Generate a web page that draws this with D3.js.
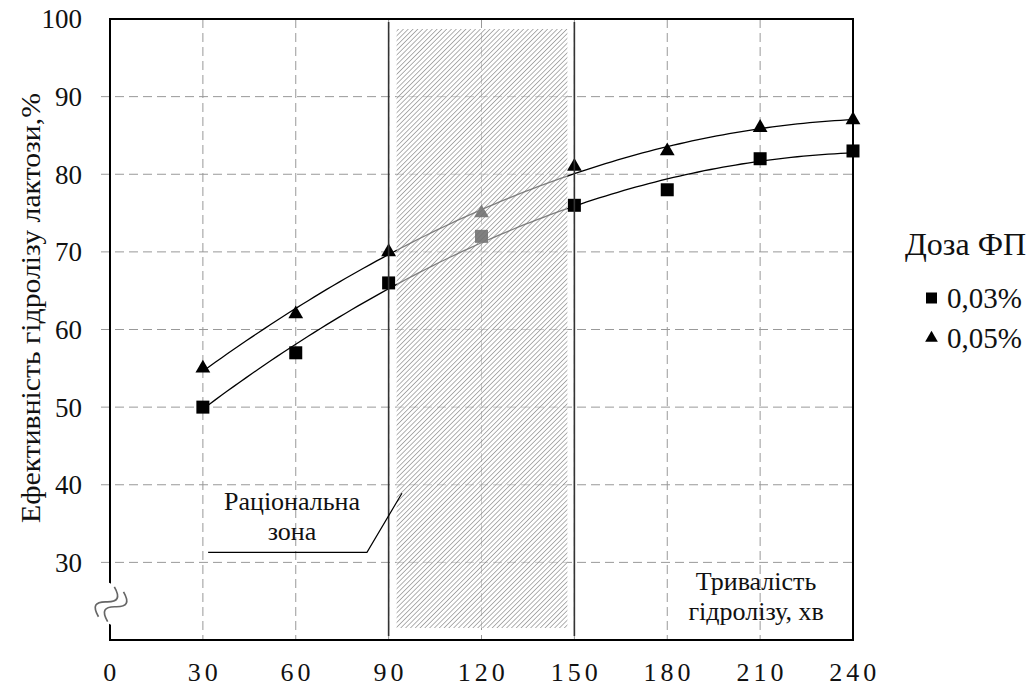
<!DOCTYPE html>
<html>
<head>
<meta charset="utf-8">
<script src="https://cdn.jsdelivr.net/npm/d3@7"></script>
</head>
<body style="margin:0; background:#fff">
<div id="wrapper"></div>
<script>
// data
const times = [30, 60, 90, 120, 150, 180, 210, 240];
const dose003 = [50, 57, 66, 72, 76, 78, 82, 83];
const dose005 = [55, 62, 70, 75, 81, 83, 86, 87];
const xTicks = [0, 30, 60, 90, 120, 150, 180, 210, 240];
const yTicks = [30, 40, 50, 60, 70, 80, 90, 100];
const zone = [90, 150];
const seriesNames = ['0,03%', '0,05%'];

const FONT = 'Liberation Serif';

const dimensions = {
  width: 1034,
  height: 689,
  margin: { top: 19, right: 181, bottom: 49, left: 110 },
};
dimensions.boundedWidth = dimensions.width - dimensions.margin.left - dimensions.margin.right;
dimensions.boundedHeight = dimensions.height - dimensions.margin.top - dimensions.margin.bottom;

const xScale = d3.scaleLinear().domain([0, 240]).range([0, dimensions.boundedWidth]);
const yScale = d3.scaleLinear().domain([20, 100]).range([dimensions.boundedHeight, 0]);

const svg = d3.select('#wrapper').append('svg')
  .attr('width', dimensions.width)
  .attr('height', dimensions.height);

function serif(sel, size) {
  return sel.attr('font-family', FONT)
    .style('font-family', `"${FONT}"`)
    .style('font-size', size + 'px')
    .attr('fill', '#111');
}

const defs = svg.append('defs');
defs.append('pattern')
  .attr('id', 'hatch')
  .attr('patternUnits', 'userSpaceOnUse')
  .attr('width', 3.4).attr('height', 3.4)
  .attr('patternTransform', 'rotate(45)')
  .append('line')
  .attr('x1', 0).attr('y1', 0).attr('x2', 0).attr('y2', 3.4)
  .attr('stroke', '#707070').attr('stroke-width', 1.1);

const bounds = svg.append('g')
  .attr('transform', `translate(${dimensions.margin.left}, ${dimensions.margin.top})`);

// grid
bounds.append('g').selectAll('line')
  .data(yTicks.filter((d) => d < 100))
  .join('line')
  .attr('x1', -9).attr('x2', dimensions.boundedWidth)
  .attr('y1', (d) => yScale(d)).attr('y2', (d) => yScale(d))
  .attr('stroke', '#999').attr('stroke-dasharray', '9,5');

bounds.append('g').selectAll('line')
  .data(xTicks.filter((d) => d > 0 && d < 240))
  .join('line')
  .attr('y1', 0).attr('y2', dimensions.boundedHeight)
  .attr('x1', (d) => xScale(d)).attr('x2', (d) => xScale(d))
  .attr('stroke', '#999').attr('stroke-dasharray', '9,5');

// quadratic trend (least squares)
function quadFit(xs, ys) {
  let s = [0, 0, 0, 0, 0], t = [0, 0, 0];
  xs.forEach((x, i) => {
    for (let k = 0; k < 5; k++) s[k] += Math.pow(x, k);
    for (let k = 0; k < 3; k++) t[k] += ys[i] * Math.pow(x, k);
  });
  const A = [[s[0], s[1], s[2], t[0]], [s[1], s[2], s[3], t[1]], [s[2], s[3], s[4], t[2]]];
  for (let i = 0; i < 3; i++) {
    for (let j = i + 1; j < 3; j++) {
      const f = A[j][i] / A[i][i];
      for (let k = i; k < 4; k++) A[j][k] -= f * A[i][k];
    }
  }
  const c = [0, 0, 0];
  for (let i = 2; i >= 0; i--) {
    let v = A[i][3];
    for (let k = i + 1; k < 3; k++) v -= A[i][k] * c[k];
    c[i] = v / A[i][i];
  }
  return (x) => c[0] + c[1] * x + c[2] * x * x;
}

const line = d3.line().x((d) => xScale(d[0])).y((d) => yScale(d[1]));
[dose003, dose005].forEach((vals) => {
  const f = quadFit(times, vals);
  const pts = d3.range(30, 240.1, 2).map((x) => [x, f(x)]);
  bounds.append('path')
    .attr('d', line(pts))
    .attr('fill', 'none')
    .attr('stroke', '#000')
    .attr('stroke-width', 1.3);
});

// markers
bounds.append('g').selectAll('rect')
  .data(times)
  .join('rect')
  .attr('x', (d) => xScale(d) - 6.5)
  .attr('y', (d, i) => yScale(dose003[i]) - 6.5)
  .attr('width', 13).attr('height', 13)
  .attr('fill', '#000');

const tri = d3.symbol().type(d3.symbolTriangle).size(95);
bounds.append('g').selectAll('path')
  .data(times)
  .join('path')
  .attr('d', tri)
  .attr('transform', (d, i) => `translate(${xScale(d)}, ${yScale(dose005[i])})`)
  .attr('fill', '#000');

// rational zone
const zx0 = xScale(zone[0]) + 8;
const zx1 = xScale(zone[1]) - 7;
bounds.append('rect')
  .attr('x', zx0).attr('y', 10)
  .attr('width', zx1 - zx0).attr('height', dimensions.boundedHeight - 22)
  .attr('fill', 'rgba(255,255,255,0.5)');
bounds.append('rect')
  .attr('x', zx0).attr('y', 10)
  .attr('width', zx1 - zx0).attr('height', dimensions.boundedHeight - 22)
  .attr('fill', 'url(#hatch)');

bounds.append('g').selectAll('line')
  .data(zone)
  .join('line')
  .attr('x1', (d) => xScale(d)).attr('x2', (d) => xScale(d))
  .attr('y1', 3).attr('y2', dimensions.boundedHeight - 4)
  .attr('stroke', '#333').attr('stroke-width', 1.6);

// frame
bounds.append('rect')
  .attr('width', dimensions.boundedWidth)
  .attr('height', dimensions.boundedHeight)
  .attr('fill', 'none')
  .attr('stroke', '#000')
  .attr('stroke-width', 2);

// axis break
const brk = bounds.append('g').attr('transform', `translate(1, ${yScale(24.6)}) rotate(-62) scale(1.3)`);
brk.append('rect').attr('x', -14).attr('y', -9).attr('width', 28).attr('height', 18).attr('fill', '#fff');
[-4, 4].forEach((o) => {
  brk.append('path')
    .attr('d', `M-13,${o} C-8,${o - 8} -4,${o - 8} 0,${o} S8,${o + 8} 13,${o}`)
    .attr('fill', 'none').attr('stroke', '#666').attr('stroke-width', 1.3);
});

// tick labels
serif(bounds.append('g').selectAll('text')
  .data(yTicks)
  .join('text'), 27)
  .attr('x', -28)
  .attr('y', (d) => yScale(d))
  .attr('dy', '0.35em')
  .attr('text-anchor', 'end')
  .text((d) => d);

serif(bounds.append('g').selectAll('text')
  .data(xTicks)
  .join('text'), 26)
  .attr('x', (d) => xScale(d) + 1.75)
  .attr('y', dimensions.boundedHeight + 41)
  .attr('text-anchor', 'middle')
  .style('letter-spacing', '4px')
  .text((d) => d);

// axis titles
serif(svg.append('text'), 27)
  .attr('transform', 'translate(40, 308) rotate(-90)')
  .attr('text-anchor', 'middle')
  .attr('textLength', 430)
  .attr('lengthAdjust', 'spacingAndGlyphs')
  .text('Ефективність гідролізу лактози,%');

const xTitle = serif(bounds.append('text'), 26)
  .attr('text-anchor', 'middle');
xTitle.append('tspan').attr('x', xScale(208.7)).attr('y', yScale(26.4)).text('Тривалість');
xTitle.append('tspan').attr('x', xScale(208.7)).attr('y', yScale(22.6)).text('гідролізу, хв');

// zone label
const zt = serif(bounds.append('text'), 26)
  .attr('text-anchor', 'middle');
zt.append('tspan').attr('x', xScale(58.8)).attr('y', yScale(36.7)).text('Раціональна');
zt.append('tspan').attr('x', xScale(58.8)).attr('y', yScale(32.9)).text('зона');
bounds.append('path')
  .attr('d', `M${xScale(31.7)},${yScale(31.3)} L${xScale(83)},${yScale(31.3)} L${xScale(94.3)},${yScale(38.9)}`)
  .attr('fill', 'none').attr('stroke', '#000').attr('stroke-width', 1.2);

// legend
const legend = svg.append('g').attr('transform', 'translate(905, 0)');
serif(legend.append('text'), 32)
  .attr('x', 0).attr('y', 255)
  .text('Доза ФП');
seriesNames.forEach((name, i) => {
  const y = 298 + i * 40;
  if (i === 0) {
    legend.append('rect').attr('x', 21).attr('y', y - 5.5).attr('width', 11).attr('height', 11).attr('fill', '#000');
  } else {
    legend.append('path').attr('d', d3.symbol().type(d3.symbolTriangle).size(70))
      .attr('transform', `translate(26.5, ${y})`).attr('fill', '#000');
  }
  serif(legend.append('text'), 29)
    .attr('x', 42).attr('y', y).attr('dy', '0.35em')
    .text(name);
});
</script>
</body>
</html>
